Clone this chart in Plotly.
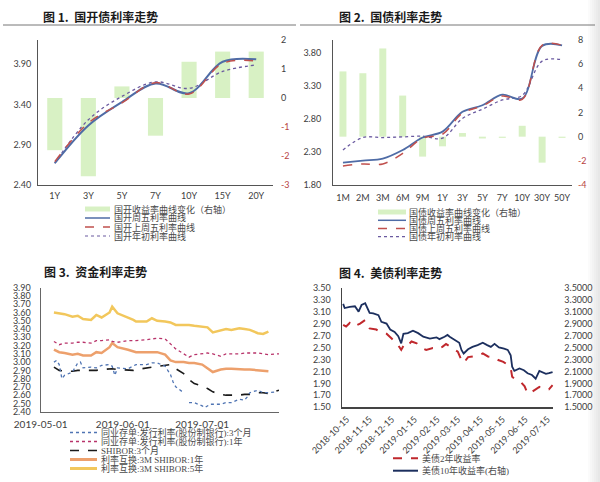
import plotly.graph_objects as go

W, H = 600, 482
def px(x): return x / W
def py(y): return 1 - y / H

TICK_FONT = dict(family="Lato, Open Sans, sans-serif", size=9, color="#404040")
CJK = "Noto Sans CJK SC"
LEG_FONT = dict(family="Liberation Serif, Noto Sans CJK SC", size=9, color="#4a4a4a")
RED_TXT = "#b8443f"

# ---------------- Panel 1 data ----------------
p1_cats = ["1Y", "3Y", "5Y", "7Y", "10Y", "15Y", "20Y"]
p1_change = [-1.8, -2.7, 0.4, -1.3, 1.25, 1.6, 1.6]
p1_fri = [2.67, 3.14, 3.43, 3.66, 3.54, 3.93, 3.96]
p1_lastfri = [2.69, 3.17, 3.42, 3.67, 3.53, 3.91, 3.94]
p1_ytd = [2.67, 3.21, 3.50, 3.68, 3.60, 3.81, 3.89]
p1_left_ticks = [2.40, 2.90, 3.40, 3.90]
p1_right_ticks = [-3, -2, -1, 0, 1, 2]

# ---------------- Panel 2 data ----------------
p2_cats = ["1M", "2M", "3M", "6M", "9M", "1Y", "3Y", "5Y", "7Y", "10Y", "30Y", "50Y"]
p2_change = [5.4, 5.25, 7.3, 3.4, -1.65, -0.8, 0.3, -0.15, -0.1, 0.9, -2.15, -0.1]
p2_fri = [2.14, 2.17, 2.20, 2.33, 2.52, 2.61, 2.91, 3.01, 3.17, 3.11, 3.91, 3.92]
p2_lastfri = [2.09, 2.12, 2.12, 2.28, 2.51, 2.57, 2.89, 3.00, 3.15, 3.10, 3.92, 3.92]
p2_ytd = [2.33, 2.52, 2.52, 2.53, 2.54, 2.51, 2.81, 2.95, 3.09, 3.16, 3.68, 3.70]
p2_left_ticks = [1.80, 2.30, 2.80, 3.30, 3.80]
p2_right_ticks = [-4, -2, 0, 2, 4, 6, 8]

# ---------------- Panel 3 data ----------------
p3_dates = ["2019-05-06", "2019-05-08", "2019-05-10", "2019-05-13", "2019-05-15", "2019-05-17",
            "2019-05-20", "2019-05-22", "2019-05-24", "2019-05-27", "2019-05-28", "2019-05-30",
            "2019-06-03", "2019-06-05", "2019-06-06", "2019-06-10", "2019-06-12", "2019-06-14",
            "2019-06-17", "2019-06-19", "2019-06-21", "2019-06-24", "2019-06-26", "2019-06-28",
            "2019-07-01", "2019-07-03", "2019-07-05", "2019-07-08", "2019-07-10", "2019-07-12",
            "2019-07-15", "2019-07-17", "2019-07-19", "2019-07-22", "2019-07-24", "2019-07-26",
            "2019-07-29", "2019-07-30"]
irs_5y = [3.60, 3.59, 3.58, 3.55, 3.56, 3.52, 3.51, 3.57, 3.54, 3.60, 3.67, 3.59,
          3.54, 3.51, 3.49, 3.49, 3.53, 3.50, 3.49, 3.48, 3.45, 3.45, 3.45, 3.44,
          3.43, 3.42, 3.36, 3.38, 3.40, 3.39, 3.41, 3.40, 3.39, 3.35, 3.34, 3.37,
          None, None]
cd_1y = [3.25, 3.21, 3.23, 3.23, 3.24, 3.24, 3.23, 3.26, 3.26, 3.27, 3.25, 3.24,
         3.26, 3.26, 3.26, 3.27, 3.28, 3.29, 3.28, 3.22, 3.16, 3.10, 3.06, 3.09,
         3.10, 3.11, 3.10, 3.07, 3.10, 3.10, 3.10, 3.11, 3.11, 3.11, 3.10, 3.09,
         3.10, 3.10]
irs_1y = [3.15, 3.12, 3.11, 3.09, 3.10, 3.08, 3.08, 3.12, 3.11, 3.18, 3.23, 3.18,
          3.15, 3.13, 3.12, 3.12, 3.12, 3.12, 3.09, 3.02, 3.00, 3.00, 2.99, 2.99,
          2.97, 2.92, 2.88, 2.91, 2.92, 2.92, 2.91, 2.91, 2.91, 2.90, 2.89, 2.89,
          None, None]
shibor_3m = [2.94, 2.90, 2.89, 2.89, 2.90, 2.90, 2.90, 2.90, 2.91, 2.92, 2.92, 2.91,
             2.90, 2.90, 2.91, 2.93, 2.94, 2.95, 2.96, 2.97, 2.92, 2.86, 2.79, 2.74,
             2.71, 2.68, 2.64, 2.61, 2.60, 2.60, 2.60, 2.61, 2.61, 2.63, 2.63, 2.62,
             2.65, 2.66]
cd3m_dates = ["2019-05-06", "2019-05-07", "2019-05-08", "2019-05-09", "2019-05-10", "2019-05-13",
              "2019-05-15", "2019-05-16", "2019-05-17", "2019-05-20", "2019-05-22", "2019-05-24",
              "2019-05-27", "2019-05-28", "2019-05-29", "2019-05-30", "2019-06-03", "2019-06-05",
              "2019-06-06", "2019-06-10", "2019-06-12", "2019-06-14", "2019-06-17", "2019-06-18",
              "2019-06-19", "2019-06-20", "2019-06-21", "2019-06-24", "2019-06-25", "2019-06-26",
              "2019-06-28", "2019-07-01", "2019-07-02", "2019-07-04", "2019-07-08", "2019-07-10",
              "2019-07-12", "2019-07-15", "2019-07-17", "2019-07-18", "2019-07-19", "2019-07-22",
              "2019-07-24", "2019-07-26", "2019-07-29"]
cd_3m = [3.00, 3.02, 2.97, 2.80, 2.84, 2.88, 2.99, 3.00, 2.93, 2.94, 2.93, 2.96,
         2.97, 2.95, 2.84, 2.93, 2.92, 2.95, 2.97, 2.97, 2.99, 2.99, 2.95, 2.90,
         2.85, 2.76, 2.70, 2.63, None, 2.51, 2.51, 2.47, 2.45, 2.49, 2.49, 2.51,
         2.51, 2.55, 2.54, 2.58, 2.63, 2.66, 2.63, 2.63, 2.64]
p3_ticks = [2.40, 2.50, 2.60, 2.70, 2.80, 2.90, 3.00, 3.10, 3.20, 3.30, 3.40, 3.50, 3.60, 3.70, 3.80, 3.90]
p3_date_ticks = ["2019-05-01", "2019-06-01", "2019-07-01"]

# ---------------- Panel 4 data ----------------
ust10_dates = ["2018-10-10", "2018-10-12", "2018-10-19", "2018-10-26", "2018-10-31", "2018-11-04",
               "2018-11-09", "2018-11-15", "2018-11-20", "2018-11-27", "2018-12-01", "2018-12-08",
               "2018-12-13", "2018-12-19", "2018-12-24", "2018-12-28", "2018-12-31", "2019-01-06",
               "2019-01-13", "2019-01-20", "2019-01-27", "2019-02-05", "2019-02-14", "2019-02-18",
               "2019-02-25", "2019-03-01", "2019-03-04", "2019-03-08", "2019-03-13", "2019-03-17",
               "2019-03-20", "2019-03-23", "2019-03-29", "2019-04-04", "2019-04-11", "2019-04-18",
               "2019-04-24", "2019-04-29", "2019-05-04", "2019-05-10", "2019-05-17", "2019-05-22",
               "2019-05-26", "2019-05-28", "2019-05-31", "2019-06-07", "2019-06-13", "2019-06-18",
               "2019-06-24", "2019-06-29", "2019-07-04", "2019-07-08", "2019-07-13", "2019-07-17",
               "2019-07-22"]
ust10 = [3.23, 3.16, 3.18, 3.19, 3.10, 3.21, 3.24, 3.08, 3.07, 3.04, 2.93, 2.90,
         2.80, 2.76, 2.69, 2.57, 2.73, 2.74, 2.78, 2.74, 2.68, 2.65, 2.67, 2.64,
         2.68, 2.71, 2.68, 2.65, 2.61, 2.58, 2.46, 2.40, 2.47, 2.51, 2.54, 2.58,
         2.54, 2.51, 2.56, 2.50, 2.48, 2.46, 2.37, 2.18, 2.11, 2.15, 2.12, 2.07,
         2.04, 1.98, 2.11, 2.09, 2.06, 2.07, 2.09]
ust2_dates = ["2018-10-10", "2018-10-14", "2018-10-19", "2018-10-24", "2018-11-02", "2018-11-09",
              "2018-11-15", "2018-11-24", "2018-12-01", "2018-12-08", "2018-12-15", "2018-12-22",
              "2018-12-28", "2019-01-02", "2019-01-06", "2019-01-11", "2019-01-18", "2019-01-22",
              "2019-01-31", "2019-02-09", "2019-02-15", "2019-02-22", "2019-02-27", "2019-03-08",
              "2019-03-15", "2019-03-20", "2019-03-23", "2019-03-29", "2019-04-04", "2019-04-11",
              "2019-04-18", "2019-04-25", "2019-05-02", "2019-05-09", "2019-05-16", "2019-05-22",
              "2019-05-26", "2019-05-28", "2019-06-02", "2019-06-09", "2019-06-14", "2019-06-18",
              "2019-06-24", "2019-06-29", "2019-07-04", "2019-07-08", "2019-07-13", "2019-07-17",
              "2019-07-22"]
ust2 = [2.88, 2.85, 2.91, 2.85, 2.90, 2.96, 2.82, 2.80, 2.75, 2.73, 2.65, 2.57,
        2.46, 2.57, 2.54, 2.60, 2.57, 2.51, 2.46, 2.49, 2.47, 2.51, 2.56, 2.49,
        2.43, 2.29, 2.24, 2.34, 2.35, 2.36, 2.40, 2.35, 2.34, 2.29, 2.26, 2.21,
        2.16, 2.01, 1.96, 1.92, 1.85, 1.73, 1.76, 1.80, 1.84, 1.81, 1.79, 1.80,
        1.87]
p4_ticks = [1.50, 1.70, 1.90, 2.10, 2.30, 2.50, 2.70, 2.90, 3.10, 3.30, 3.50]
p4_date_ticks = ["2018-10-15", "2018-11-15", "2018-12-15", "2019-01-15", "2019-02-15", "2019-03-15",
                 "2019-04-15", "2019-05-15", "2019-06-15", "2019-07-15"]

BAR_GREEN = "#d8f1c4"
BLUE1 = "#4f6ca6"
RED1 = "#c0504d"
PURP1 = "#6a5aa0"

fig = go.Figure()

# Panel 1
fig.add_trace(go.Bar(x=p1_cats, y=p1_change, width=0.45, marker=dict(color=BAR_GREEN, line=dict(width=0)),
                     xaxis="x", yaxis="y", showlegend=False))
fig.add_trace(go.Scatter(x=p1_cats, y=p1_ytd, mode="lines", line=dict(color=PURP1, width=1.3, dash="dot", shape="spline"),
                         xaxis="x", yaxis="y2", showlegend=False))
fig.add_trace(go.Scatter(x=p1_cats, y=p1_fri, mode="lines", line=dict(color=BLUE1, width=2, shape="spline"),
                         xaxis="x", yaxis="y2", showlegend=False))
fig.add_trace(go.Scatter(x=p1_cats, y=p1_lastfri, mode="lines", line=dict(color=RED1, width=1.5, dash="dash", shape="spline"),
                         xaxis="x", yaxis="y2", showlegend=False))

# Panel 2
fig.add_trace(go.Bar(x=p2_cats, y=p2_change, width=0.35, marker=dict(color=BAR_GREEN, line=dict(width=0)),
                     xaxis="x2", yaxis="y3", showlegend=False))
fig.add_trace(go.Scatter(x=p2_cats, y=p2_ytd, mode="lines", line=dict(color=PURP1, width=1.3, dash="dot", shape="spline"),
                         xaxis="x2", yaxis="y4", showlegend=False))
fig.add_trace(go.Scatter(x=p2_cats, y=p2_fri, mode="lines", line=dict(color=BLUE1, width=1.8, shape="spline"),
                         xaxis="x2", yaxis="y4", showlegend=False))
fig.add_trace(go.Scatter(x=p2_cats, y=p2_lastfri, mode="lines", line=dict(color=RED1, width=1.5, dash="dash", shape="spline"),
                         xaxis="x2", yaxis="y4", showlegend=False))

# Panel 3
C_CD3M = "#4f74b3"
C_CD1Y = "#b8336a"
C_SHIB = "#1a1a1a"
C_IRS1 = "#eda06c"
C_IRS5 = "#f2c75c"
fig.add_trace(go.Scatter(x=p3_dates, y=irs_5y, mode="lines", line=dict(color=C_IRS5, width=2.5),
                         xaxis="x3", yaxis="y5", showlegend=False))
fig.add_trace(go.Scatter(x=p3_dates, y=irs_1y, mode="lines", line=dict(color=C_IRS1, width=2.5),
                         xaxis="x3", yaxis="y5", showlegend=False))
fig.add_trace(go.Scatter(x=p3_dates, y=cd_1y, mode="lines", line=dict(color=C_CD1Y, width=1.3, dash="dot"),
                         xaxis="x3", yaxis="y5", showlegend=False))
fig.add_trace(go.Scatter(x=p3_dates, y=shibor_3m, mode="lines", line=dict(color=C_SHIB, width=1.6, dash="dash"),
                         xaxis="x3", yaxis="y5", showlegend=False))
fig.add_trace(go.Scatter(x=cd3m_dates, y=cd_3m, mode="lines", line=dict(color=C_CD3M, width=1.3, dash="dot"),
                         xaxis="x3", yaxis="y5", showlegend=False, connectgaps=False))

# Panel 4
C_UST2 = "#c0282d"
C_UST10 = "#1c2f5e"
fig.add_trace(go.Scatter(x=ust2_dates, y=ust2, mode="lines", line=dict(color=C_UST2, width=2, dash="dash"),
                         xaxis="x4", yaxis="y6", showlegend=False))
fig.add_trace(go.Scatter(x=ust10_dates, y=ust10, mode="lines", line=dict(color=C_UST10, width=1.8),
                         xaxis="x4", yaxis="y7", showlegend=False))

def red_ticks(vals, fmt="{:g}"):
    out = []
    for v in vals:
        s = fmt.format(v)
        out.append(f"<span style='color:{RED_TXT}'>{s}</span>" if v < 0 else s)
    return out

AX = dict(showgrid=False, zeroline=False, tickfont=TICK_FONT, ticks="", automargin=False)
LINE_C = "#555555"

layout = dict(
    width=W, height=H, margin=dict(l=0, r=0, t=0, b=0, autoexpand=False),
    paper_bgcolor="white", plot_bgcolor="rgba(0,0,0,0)", barmode="overlay", showlegend=False,
    hovermode=False,
    # panel 1
    xaxis=dict(AX, domain=[px(38), px(273)], anchor="y", type="category", showline=True, linecolor=LINE_C,
               linewidth=1, ticklabelstandoff=2),
    yaxis=dict(AX, domain=[py(185), py(40)], anchor="x", side="right", range=[-3, 2],
               tickvals=p1_right_ticks, ticktext=red_ticks(p1_right_ticks), showline=False, ticklabelstandoff=7),
    yaxis2=dict(AX, overlaying="y", anchor="x", side="left", range=[2.40, 4.20], tickvals=p1_left_ticks,
                tickformat=".2f", showline=True, linecolor=LINE_C, linewidth=1, ticklabelstandoff=4),
    # panel 2
    xaxis2=dict(AX, domain=[px(333), px(572)], anchor="y3", type="category", showline=True, linecolor=LINE_C,
                linewidth=1, ticklabelstandoff=4),
    yaxis3=dict(AX, domain=[py(185), py(40)], anchor="x2", side="right", range=[-4, 8],
                tickvals=p2_right_ticks, ticktext=red_ticks(p2_right_ticks), showline=False, ticklabelstandoff=5),
    yaxis4=dict(AX, overlaying="y3", anchor="x2", side="left", range=[1.80, 4.00], tickvals=p2_left_ticks,
                tickformat=".2f", showline=True, linecolor=LINE_C, linewidth=1, ticklabelstandoff=9),
    # panel 3
    xaxis3=dict(AX, domain=[px(40.7), px(279)], anchor="y5", type="date", range=["2019-05-01", "2019-07-30"],
                tickvals=p3_date_ticks, tickformat="%Y-%m-%d", showline=True, linecolor="#666", linewidth=1.2,
                ticklabelstandoff=3, tickfont=dict(TICK_FONT, size=10)),
    yaxis5=dict(AX, domain=[py(411.7), py(287.7)], anchor="x3", range=[2.40, 3.90], tickvals=p3_ticks,
                tickformat=".2f", showline=True, linecolor="#666", linewidth=1.2, ticklabelstandoff=7),
    # panel 4
    xaxis4=dict(AX, domain=[px(341.7), px(553.3)], anchor="y6", type="date", range=["2018-10-08", "2019-07-23"],
                tickvals=p4_date_ticks, tickformat="%Y-%m-%d", tickangle=-45, showline=True, linecolor="#444",
                linewidth=1.2, ticklabelstandoff=2),
    yaxis6=dict(AX, domain=[py(407.3), py(287.7)], anchor="x4", range=[1.50, 3.50], tickvals=p4_ticks,
                tickformat=".2f", showline=True, linecolor="#444", linewidth=1.2, ticklabelstandoff=8),
    yaxis7=dict(AX, overlaying="y6", anchor="x4", side="right", range=[1.50, 3.50], tickvals=p4_ticks,
                tickformat=".4f", showline=False, ticklabelstandoff=10),
)
fig.update_layout(**layout)

shapes = []
annotations = []

def title(text, xc, yc):
    annotations.append(dict(text=text, x=px(xc), y=py(yc), xref="paper", yref="paper", showarrow=False,
                            xanchor="center", yanchor="middle",
                            font=dict(family=CJK, size=12, color="#1a1a1a")))

title("<b>图 1.  国开债利率走势</b>", 100, 17)
title("<b>图 2.  国债利率走势</b>", 390, 17)
title("<b>图 3.  资金利率走势</b>", 95, 271)
title("<b>图 4.  美债利率走势</b>", 391, 272)

# title rules
for x0, x1 in [(3, 296), (300, 595)]:
    shapes.append(dict(type="line", xref="paper", yref="paper", x0=px(x0), x1=px(x1), y0=py(25), y1=py(25),
                       line=dict(color="#777777", width=1)))

def leg_line(x0, x1, y, color, width, dash="solid"):
    shapes.append(dict(type="line", xref="paper", yref="paper", x0=px(x0), x1=px(x1), y0=py(y), y1=py(y),
                       line=dict(color=color, width=width, dash=dash)))

def leg_rect(x0, x1, y, color, h=5):
    shapes.append(dict(type="rect", xref="paper", yref="paper", x0=px(x0), x1=px(x1), y0=py(y + h / 2),
                       y1=py(y - h / 2), fillcolor=color, line=dict(width=0)))

def leg_text(text, x, y):
    annotations.append(dict(text=text, x=px(x), y=py(y), xref="paper", yref="paper", showarrow=False,
                            xanchor="left", yanchor="middle", font=LEG_FONT))

# Panel 1 legend
p1_leg = ["国开收益率曲线变化（右轴）", "国开周五利率曲线", "国开上周五利率曲线", "国开年初利率曲线"]
rows1 = [209, 218, 227, 236]
leg_rect(85, 110, rows1[0], BAR_GREEN)
leg_line(85, 110, rows1[1], BLUE1, 1.5)
leg_line(85, 110, rows1[2], RED1, 1.5, "dash")
leg_line(85, 110, rows1[3], PURP1, 1.2, "dot")
for t, r in zip(p1_leg, rows1):
    leg_text(t, 112, r)

# Panel 2 legend
p2_leg = ["国债收益率曲线变化（右轴）", "国债周五利率曲线", "国债上周五利率曲线", "国债年初利率曲线"]
rows2 = [212, 220.3, 228.5, 236.7]
leg_rect(378, 406, rows2[0], BAR_GREEN)
leg_line(378, 406, rows2[1], BLUE1, 1.5)
leg_line(378, 406, rows2[2], RED1, 1.5, "dash")
leg_line(378, 406, rows2[3], PURP1, 1.2, "dot")
for t, r in zip(p2_leg, rows2):
    leg_text(t, 407, r)

# Panel 3 legend
p3_leg = ["同业存单:发行利率(股份制银行):3个月", "同业存单:发行利率(股份制银行):1年", "SHIBOR:3个月",
          "利率互换:3M SHIBOR:1年", "利率互换:3M SHIBOR:5年"]
rows3 = [432.5, 441.5, 450.5, 459.5, 468.5]
leg_line(70, 97, rows3[0], C_CD3M, 1.3, "dot")
leg_line(70, 97, rows3[1], C_CD1Y, 1.3, "dot")
leg_line(70, 97, rows3[2], C_SHIB, 1.5, "dash")
leg_line(70, 97, rows3[3], C_IRS1, 3)
leg_line(70, 97, rows3[4], C_IRS5, 3)
for t, r in zip(p3_leg, rows3):
    leg_text(t, 99, r)

# Panel 4 legend
p4_leg = ["美债2年收益率", "美债10年收益率(右轴)"]
rows4 = [458.3, 470.7]
leg_line(393, 418, rows4[0], C_UST2, 2, "dash")
leg_line(393, 418, rows4[1], C_UST10, 2)
for t, r in zip(p4_leg, rows4):
    leg_text(t, 420, r)

# right-edge page shadow
for i, a in enumerate([0.03, 0.06, 0.09, 0.12, 0.15, 0.18]):
    shapes.append(dict(type="rect", xref="paper", yref="paper", x0=px(588 + 2 * i), x1=px(590 + 2 * i),
                       y0=0, y1=1, fillcolor=f"rgba(120,120,120,{a})", line=dict(width=0), layer="below"))

fig.update_layout(shapes=shapes, annotations=annotations)
fig.write_html("out.html", config={"displayModeBar": False, "staticPlot": True},
               post_script="document.body.style.margin='0';document.body.style.overflow='hidden';")
